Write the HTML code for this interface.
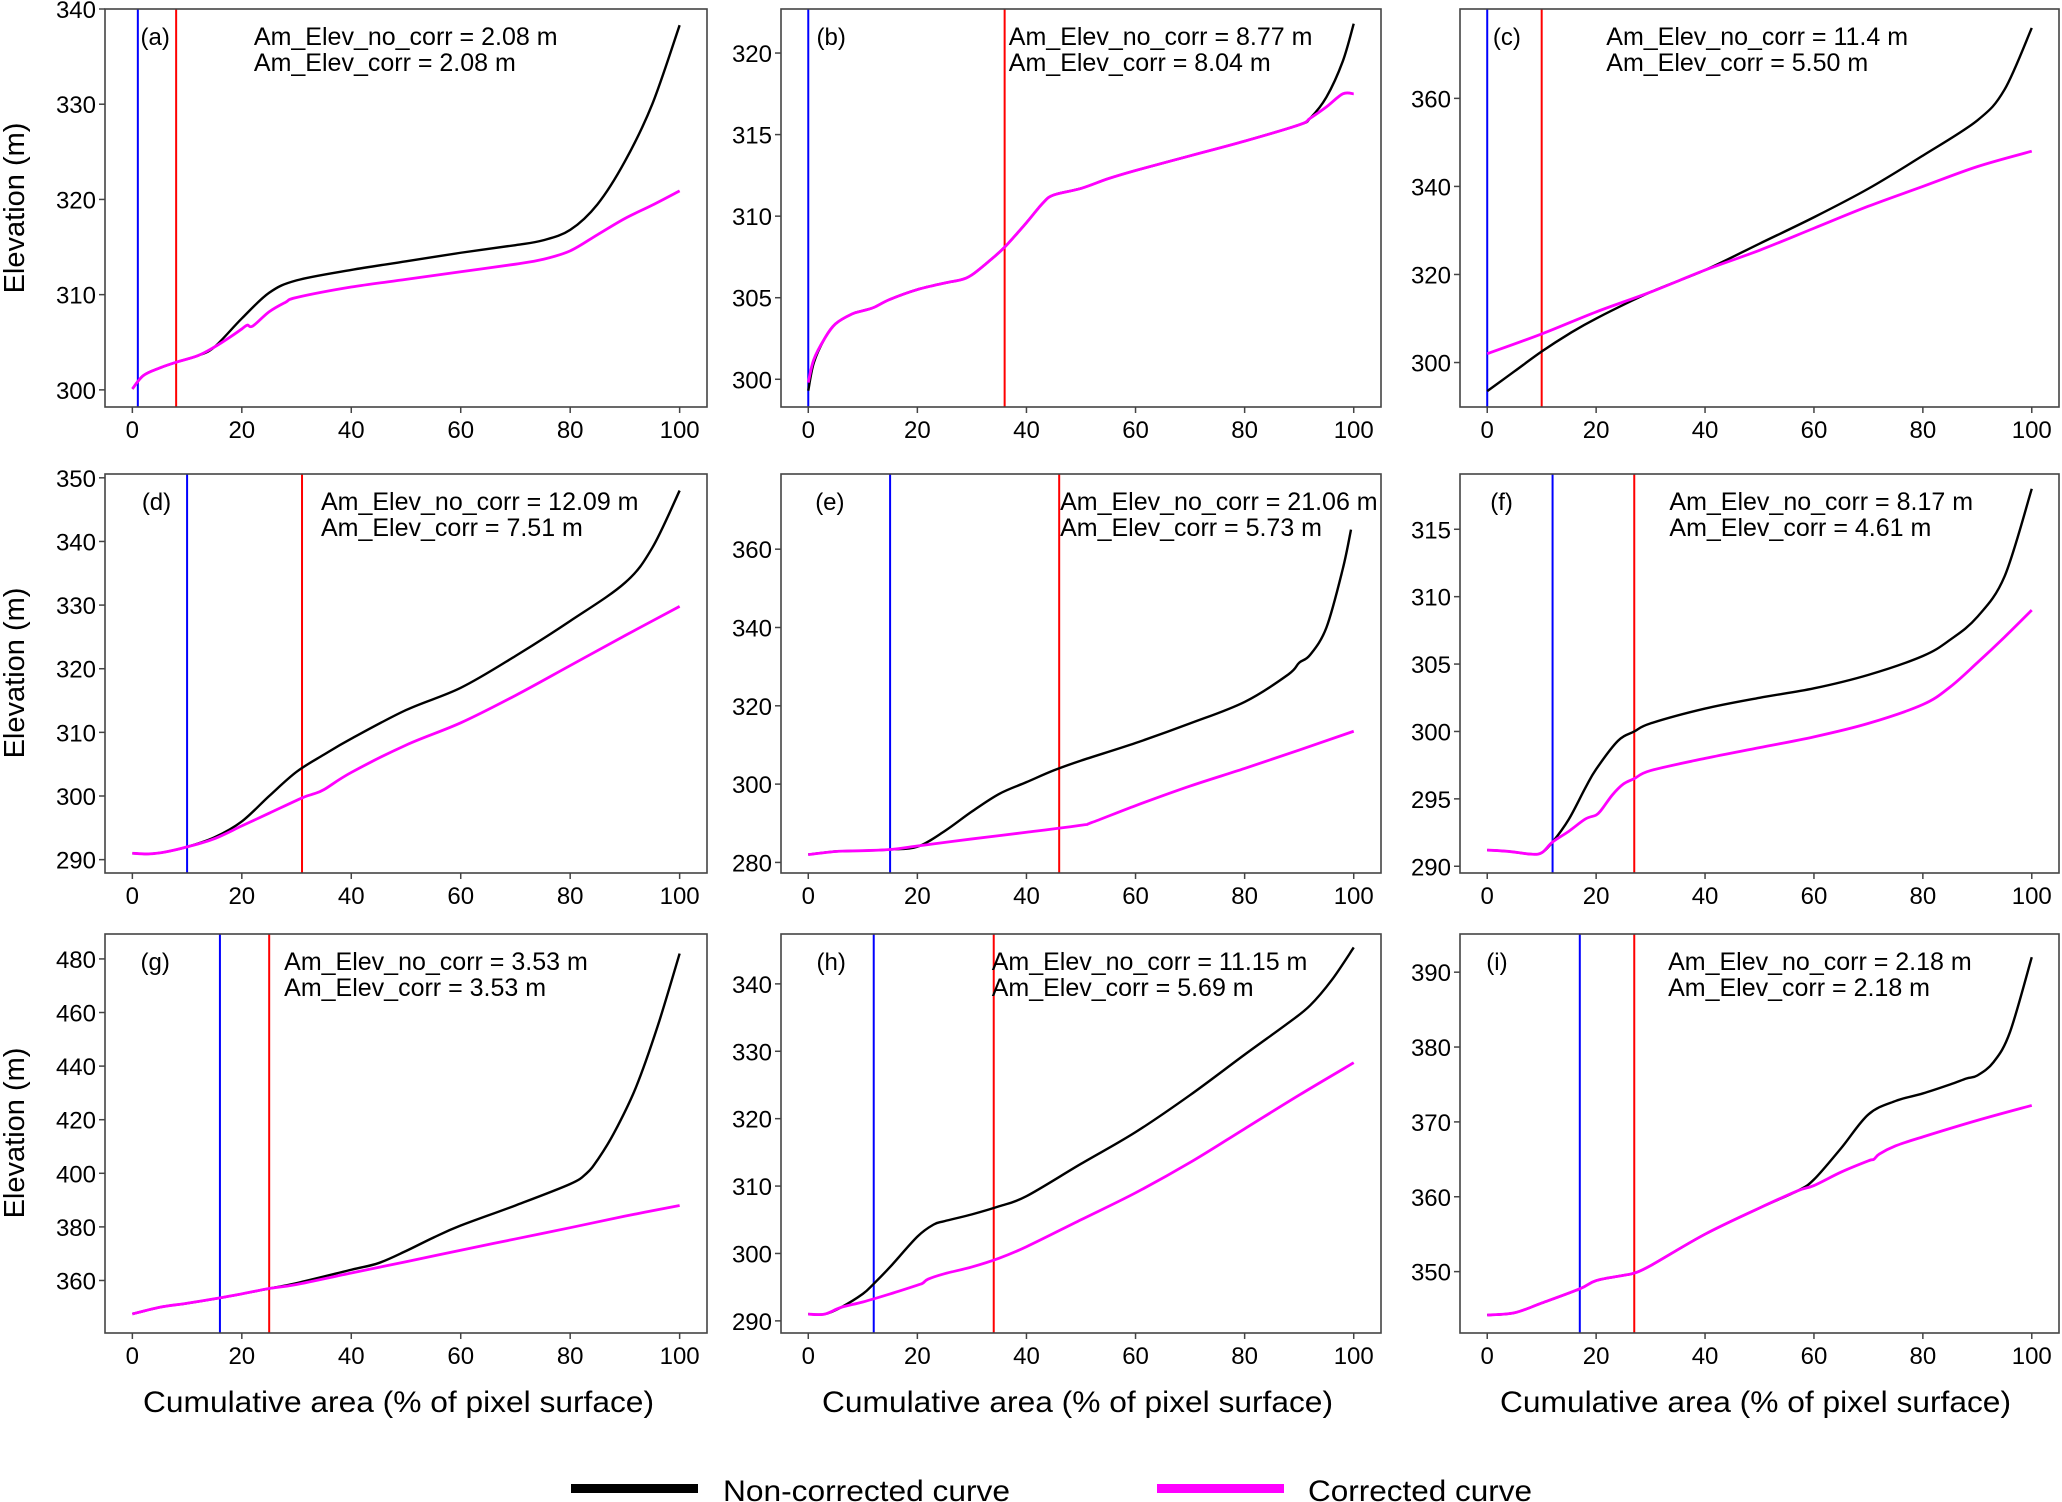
<!DOCTYPE html>
<html><head><meta charset="utf-8">
<style>
html,body{margin:0;padding:0;background:#fff;}
svg{display:block;font-family:"Liberation Sans",sans-serif;}
</style></head>
<body>
<svg id="fig" width="2062" height="1502" viewBox="0 0 2062 1502" xmlns="http://www.w3.org/2000/svg">
<g id="panels"></g>
<text x="0" y="0" font-size="29" text-anchor="middle" transform="translate(24,208) rotate(-90)">Elevation (m)</text>
<text x="0" y="0" font-size="29" text-anchor="middle" transform="translate(24,673) rotate(-90)">Elevation (m)</text>
<text x="0" y="0" font-size="29" text-anchor="middle" transform="translate(24,1133) rotate(-90)">Elevation (m)</text>
<text x="143" y="1412" font-size="30" textLength="511" lengthAdjust="spacingAndGlyphs">Cumulative area (% of pixel surface)</text>
<text x="822" y="1412" font-size="30" textLength="511" lengthAdjust="spacingAndGlyphs">Cumulative area (% of pixel surface)</text>
<text x="1500" y="1412" font-size="30" textLength="511" lengthAdjust="spacingAndGlyphs">Cumulative area (% of pixel surface)</text>
<g>
<rect x="571" y="1484" width="127" height="9" fill="#000"/>
<text x="723" y="1501" font-size="30" textLength="287" lengthAdjust="spacingAndGlyphs">Non-corrected curve</text>
<rect x="1157" y="1484" width="127" height="9" fill="#f0f"/>
<text x="1308" y="1501" font-size="30" textLength="224" lengthAdjust="spacingAndGlyphs">Corrected curve</text>
</g>
</svg>
<script>
const panelLabels = ["(a)","(b)","(c)","(d)","(e)","(f)","(g)","(h)","(i)"];
const noCorrText = ["2.08","8.77","11.4","12.09","21.06","8.17","3.53","11.15","2.18"];
const corrText = ["2.08","8.04","5.50","7.51","5.73","4.61","3.53","5.69","2.18"];
const blueLineX = [1,0,0,10,15,12,16,12,17];
const redLineX = [8,36,10,31,46,27,25,34,27];
const yMin = [298.2,298.3,289.9,287.9,277.3,289.5,340.4,288.2,341.8];
const yMax = [340,322.7,380.3,350.6,379.2,319.1,489.3,347.4,395.1];
const yTicks = [
 [300,310,320,330,340],[300,305,310,315,320],[300,320,340,360],
 [290,300,310,320,330,340,350],[280,300,320,340,360],[290,295,300,305,310,315],
 [360,380,400,420,440,460,480],[290,300,310,320,330,340],[350,360,370,380,390]];
const xTicks = [0,20,40,60,80,100];
const textOffset = [114,174,112,165,213,160,137,161,159];
const labelOffset = [27,27,25,28,26,23,27,27,20];

const xA=[0,2,5,8,12,15,20,25,30,40,50,60,70,75,80,85,90,95,100];
const blackA=[300.1,301.5,302.3,302.9,303.6,304.5,307.5,310.2,311.5,312.6,313.5,314.4,315.2,315.7,316.8,319.5,324,330,338.3];
const xAm=[0,2,5,8,12,15,18,20,21,22,25,28,30,40,50,60,70,75,80,85,90,95,100];
const magA=[300.1,301.5,302.3,302.9,303.6,304.5,305.6,306.4,306.8,306.7,308.2,309.2,309.7,310.8,311.6,312.4,313.2,313.7,314.6,316.3,318,319.4,320.9];

const xB=[0,1,3,5,8,10,12,15,20,25,28,30,33,36,40,43,45,50,55,60,70,80,90,92,95,98,100];
const blackB=[299.3,301,302.5,303.4,304,304.2,304.4,304.9,305.5,305.9,306.1,306.4,307.2,308.1,309.6,310.8,311.3,311.7,312.3,312.8,313.7,314.6,315.6,316,317.3,319.5,321.8];
const magB=[299.8,301.2,302.5,303.4,304,304.2,304.4,304.9,305.5,305.9,306.1,306.4,307.2,308.1,309.6,310.8,311.3,311.7,312.3,312.8,313.7,314.6,315.6,316,316.7,317.5,317.5];

const xC=[0,5,10,15,20,30,40,50,60,70,80,90,95,100];
const blackC=[293.5,298,302.5,306.5,310,316,321,327,333,339.5,347,355,362,376];
const xCm=[0,10,20,30,40,50,60,70,80,90,100];
const magC=[302,306.5,311.5,316,321,325.5,330.5,335.5,340,344.5,348];

const xD=[0,3,6,10,15,20,25,30,35,40,50,60,70,80,90,95,100];
const blackD=[291,290.9,291.2,292,293.5,296,300,303.8,306.5,309,313.5,317,322,327.5,333.5,339,348];
const xDm=[0,3,6,10,15,20,25,31,33,35,40,50,60,70,80,90,100];
const magD=[291,290.9,291.2,292,293.3,295.3,297.3,299.7,300.3,301,303.7,308,311.5,315.8,320.5,325.2,329.8];

const xE=[0,5,10,15,20,25,30,35,40,45,50,60,70,80,88,90,92,95,98,99.5];
const blackE=[282,282.8,283,283.3,284,288,293,297.5,300.5,303.5,306,310.5,315.5,321,328,331,333,340,355,365];
const xEm=[0,5,10,15,20,30,40,50,52,60,70,80,90,100];
const magE=[282,282.8,283,283.3,284.2,286,287.7,289.5,290.2,294.5,299.5,304,308.7,313.5];

const xF=[0,4,8,10,12,15,18,20,24,27,30,40,50,60,70,80,85,90,95,100];
const blackF=[291.2,291.1,290.9,291,291.8,293.5,295.8,297.2,299.3,300,300.6,301.7,302.5,303.2,304.2,305.6,306.8,308.5,311.5,318];
const xFm=[0,4,8,10,12,15,18,20,21,23,25,27,30,40,50,60,70,80,85,90,95,100];
const magF=[291.2,291.1,290.9,291,291.8,292.6,293.5,293.8,294.2,295.3,296.1,296.5,297.1,298,298.8,299.6,300.6,302,303.3,305.1,307,309];

const xG=[0,5,10,16,20,25,30,40,45,50,55,60,70,80,83,85,88,92,96,100];
const blackG=[347.5,350,351.5,353.5,355,357,359,364,366.5,371,376,380.5,388,396,400,405,415,432,455,482];
const xGm=[0,5,10,16,20,25,30,40,50,60,70,80,90,100];
const magG=[347.5,350,351.5,353.5,355,357,358.5,362.8,367,371.3,375.5,379.7,384,388];

const xH=[0,3,6,10,12,15,20,23,25,30,35,40,50,60,70,80,88,92,96,100];
const blackH=[291,291,292,294,295.5,298,302.5,304.3,304.8,305.8,307,308.5,313.3,318,323.5,329.5,334.2,336.8,340.6,345.4];
const xHm=[0,3,6,10,15,20,21,22,25,30,35,40,50,60,70,80,90,100];
const magH=[291,291,292,292.8,294,295.3,295.6,296.2,297,298,299.3,301,305,309,313.5,318.5,323.5,328.3];

const xI=[0,5,10,17,20,25,27,30,40,50,57,60,65,70,75,80,85,88,90,93,96,100];
const blackI=[344.2,344.5,345.8,347.7,348.8,349.5,349.8,350.8,355,358.5,360.8,362.3,366.5,371,372.8,373.8,375,375.8,376.2,378,382,392];
const xIm=[0,5,10,17,20,25,27,30,40,50,57,60,65,70,71,72,75,80,90,100];
const magI=[344.2,344.5,345.8,347.7,348.8,349.5,349.8,350.8,355,358.5,360.8,361.5,363.3,364.8,365,365.7,366.8,368,370.2,372.2];

const blackX=[xA,xB,xC,xD,xE,xF,xG,xH,xI];
const blackY=[blackA,blackB,blackC,blackD,blackE,blackF,blackG,blackH,blackI];
const magX=[xAm,xB,xCm,xDm,xEm,xFm,xGm,xHm,xIm];
const magY=[magA,magB,magC,magD,magE,magF,magG,magH,magI];

const colLeft=[105,781,1460], colRight=[707,1381,2059];
const rowTop=[9,474,934], rowBottom=[407,873,1333];
const NS="http://www.w3.org/2000/svg";
const root=document.getElementById('panels');
function mk(tag,attrs,parent){const e=document.createElementNS(NS,tag);for(const k in attrs)e.setAttribute(k,attrs[k]);parent.appendChild(e);return e;}
function smoothPath(pts){
  let d="M"+pts[0][0].toFixed(2)+","+pts[0][1].toFixed(2);
  for(let i=0;i<pts.length-1;i++){
    const p0=pts[i-1]||pts[i],p1=pts[i],p2=pts[i+1],p3=pts[i+2]||p2;
    const c1=[p1[0]+(p2[0]-p0[0])/6,p1[1]+(p2[1]-p0[1])/6];
    const c2=[p2[0]-(p3[0]-p1[0])/6,p2[1]-(p3[1]-p1[1])/6];
    d+="C"+c1[0].toFixed(2)+","+c1[1].toFixed(2)+" "+c2[0].toFixed(2)+","+c2[1].toFixed(2)+" "+p2[0].toFixed(2)+","+p2[1].toFixed(2);
  }
  return d;
}
for(let p=0;p<9;p++){
  const c=p%3,r=Math.floor(p/3);
  const L=colLeft[c],R=colRight[c],T=rowTop[r],B=rowBottom[r];
  const sx=v=>L+(v+5)/110*(R-L);
  const sy=v=>B-(v-yMin[p])/(yMax[p]-yMin[p])*(B-T);
  const g=mk('g',{},root);
  
  
  const cp='clip'+p;
  const cl=mk('clipPath',{id:cp},g);
  mk('rect',{x:L,y:T,width:R-L,height:B-T},cl);
  const pg=mk('g',{'clip-path':'url(#'+cp+')'},g);
  const bl=mk('line',{x1:sx(blueLineX[p]),x2:sx(blueLineX[p]),y1:T,y2:B,stroke:'#0000ff','stroke-width':2},pg);
  
  
  const rl=mk('line',{x1:sx(redLineX[p]),x2:sx(redLineX[p]),y1:T,y2:B,stroke:'#ff0000','stroke-width':2},pg);
  
  
  const bp=blackX[p].map((x,i)=>[sx(x),sy(blackY[p][i])]);
  const blk=mk('path',{d:smoothPath(bp),fill:'none',stroke:'#000','stroke-width':2.4},pg);
  
  
  const mp=magX[p].map((x,i)=>[sx(x),sy(magY[p][i])]);
  const mg=mk('path',{d:smoothPath(mp),fill:'none',stroke:'#ff00ff','stroke-width':2.8},pg);
  
  
  const fr=mk('rect',{x:L,y:T,width:R-L,height:B-T,fill:'none',stroke:'#444','stroke-width':1.6},g);
  
  
  xTicks.forEach(v=>{
    const x=sx(v);
    mk('line',{x1:x,x2:x,y1:B,y2:B+6,stroke:'#444','stroke-width':1.5},g);
    const t=mk('text',{x:x,y:B+31,'font-size':24,'text-anchor':'middle'},g);
    
    
    t.textContent=v;
  });
  yTicks[p].forEach(v=>{
    const y=sy(v);
    mk('line',{x1:L-6,x2:L,y1:y,y2:y,stroke:'#444','stroke-width':1.5},g);
    const t=mk('text',{x:L-9,y:y+9,'font-size':24,'text-anchor':'end'},g);
    
    
    t.textContent=v;
  });
  const lab=mk('text',{x:L+labelOffset[p]*1.315,y:T+36,'font-size':24},g);
  
  
  lab.textContent=panelLabels[p];
  const tx=L+textOffset[p]*1.315-1;
  const t1=mk('text',{x:tx,y:T+36,'font-size':25},g);
  
  
  t1.textContent='Am_Elev_no_corr = '+noCorrText[p]+' m';
  const t2=mk('text',{x:tx,y:T+62,'font-size':25},g);
  
  
  t2.textContent='Am_Elev_corr = '+corrText[p]+' m';
}
</script>
</body></html>
